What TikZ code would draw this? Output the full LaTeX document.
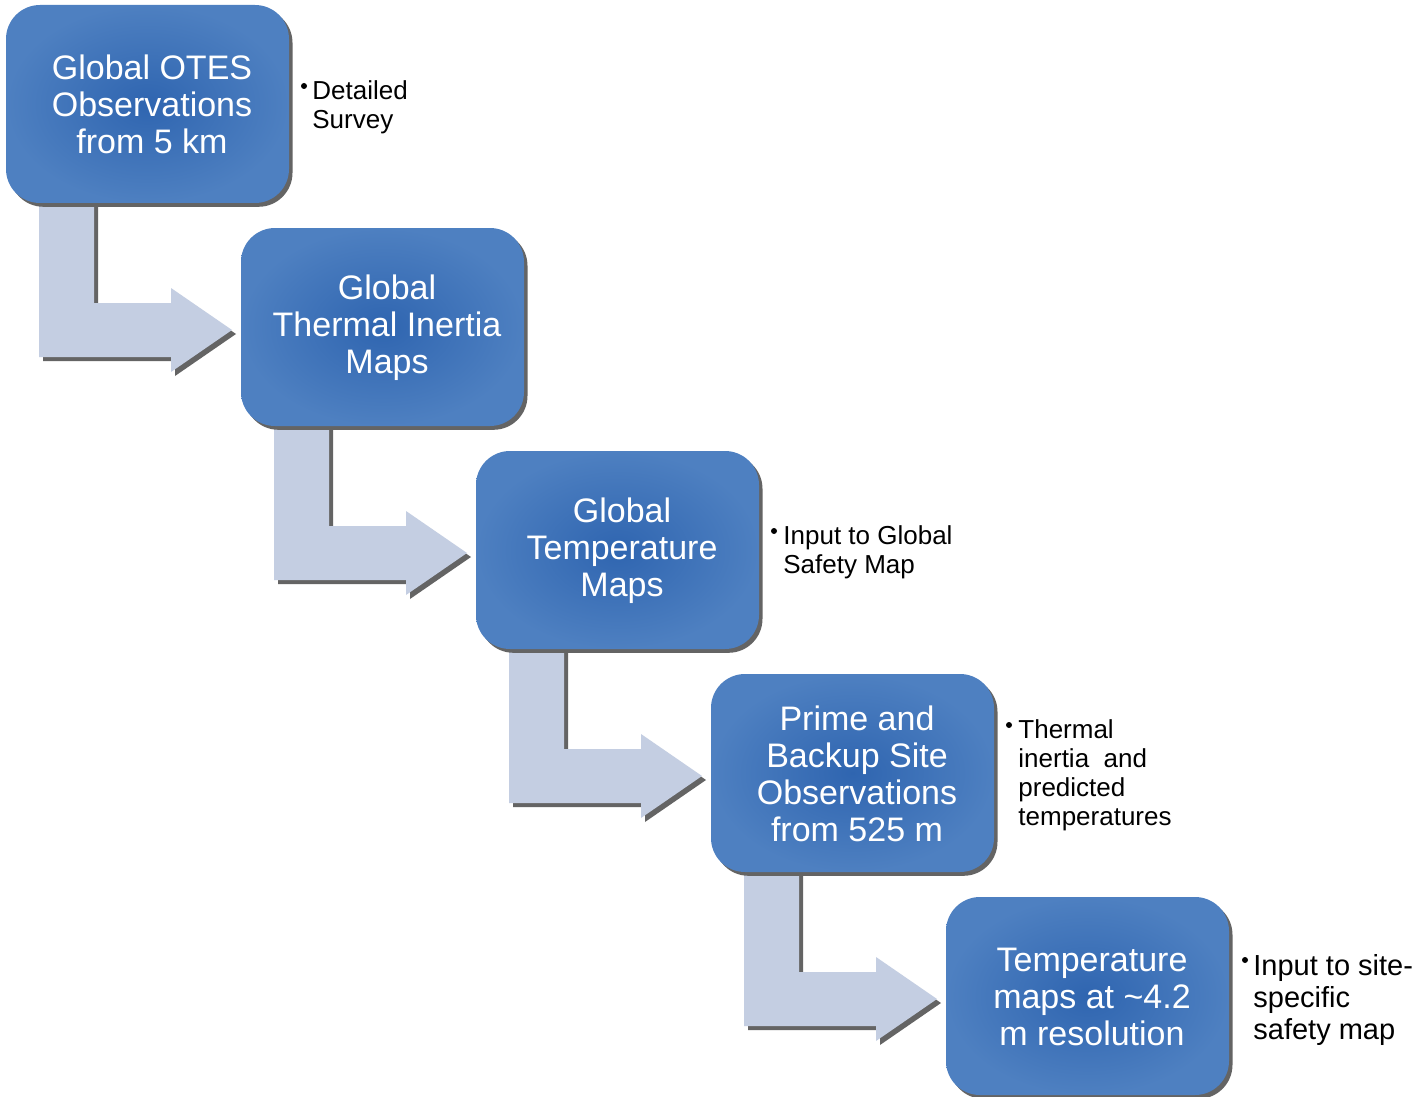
\documentclass[tikz,border=0pt]{standalone}
\usepackage{fontspec}
\setmainfont{Liberation Sans}
\usetikzlibrary{shadows}
\definecolor{innerblue}{RGB}{47,101,176}
\definecolor{outerblue}{RGB}{78,128,193}
\definecolor{arrowfill}{RGB}{196,206,226}
\definecolor{shadowgray}{RGB}{100,100,100}
\begin{document}
\begin{tikzpicture}[x=0.5pt,y=-0.5pt,
  stepbox/.style={rectangle, rounded corners=17pt, minimum width=141.5pt, minimum height=99pt,
    inner sep=0pt, shading=radial, inner color=innerblue, outer color=outerblue,
    general shadow={fill=shadowgray, shadow xshift=1.75pt, shadow yshift=-1.9pt}},
  boxtext/.style={inner sep=0pt, text=white, align=center, font=\fontsize{17}{18.5}\selectfont},
  sidelabel/.style={anchor=north west, inner sep=0pt, align=left, font=\fontsize{13}{14.5}\selectfont},
  biglabel/.style={sidelabel, font=\fontsize{14.5}{16}\selectfont},
  dot/.style={circle, fill=black, inner sep=0pt, minimum size=3pt},
  bentarrow/.style={fill=arrowfill},
  bentshadow/.style={fill=shadowgray}]
\useasboundingbox (0,0) rectangle (1420,1097);
\fill[white] (0,0) rectangle (1420,1097);
% bent arrows
\foreach \i in {0,1,2,3}{
  \begin{scope}[shift={(235*\i,223*\i)}]
    \fill[bentshadow, shift={(4,4)}] (39,190) -- (94,190) -- (94,303) -- (171,303) -- (171,288) -- (232,330) -- (171,372) -- (171,357) -- (39,357) -- cycle;
    \fill[bentarrow] (39,190) -- (94,190) -- (94,303) -- (171,303) -- (171,288) -- (232,330) -- (171,372) -- (171,357) -- (39,357) -- cycle;
  \end{scope}
}
% boxes
\node[stepbox] (b1) at (147.5,104) {};
\node[stepbox] (b2) at (382.5,327) {};
\node[stepbox] (b3) at (617.5,550) {};
\node[stepbox] (b4) at (852.5,773) {};
\node[stepbox] (b5) at (1087.5,996) {};
\node[boxtext] (t1) at ([xshift=2.25pt,yshift=-0.25pt]b1) {Global OTES\\Observations\\from 5 km};
\node[boxtext] (t2) at ([xshift=2.25pt,yshift=-0.25pt]b2) {Global\\Thermal Inertia\\Maps};
\node[boxtext] (t3) at ([xshift=2.25pt,yshift=-0.25pt]b3) {Global\\Temperature\\Maps};
\node[boxtext] (t4) at ([xshift=2.25pt,yshift=-0.25pt]b4) {Prime and\\Backup Site\\Observations\\from 525 m};
\node[boxtext] (t5) at ([xshift=2.25pt,yshift=-0.25pt]b5) {Temperature\\maps at \textasciitilde 4.2\\m resolution};
% side labels
\node[dot] (d1) at (304,86) {};
\node[sidelabel] (l1) at (312,80) {Detailed\\Survey};
\node[dot] (d3) at (774,531) {};
\node[sidelabel] (l3) at (783,525) {Input to Global\\Safety Map};
\node[dot] (d4) at (1009,725) {};
\node[sidelabel] (l4) at (1018,719) {Thermal\\inertia\ \ and\\predicted\\temperatures};
\node[dot] (d5) at (1245,960) {};
\node[biglabel] (l5) at (1253,954) {Input to site-\\specific\\safety map};
\end{tikzpicture}
\end{document}
